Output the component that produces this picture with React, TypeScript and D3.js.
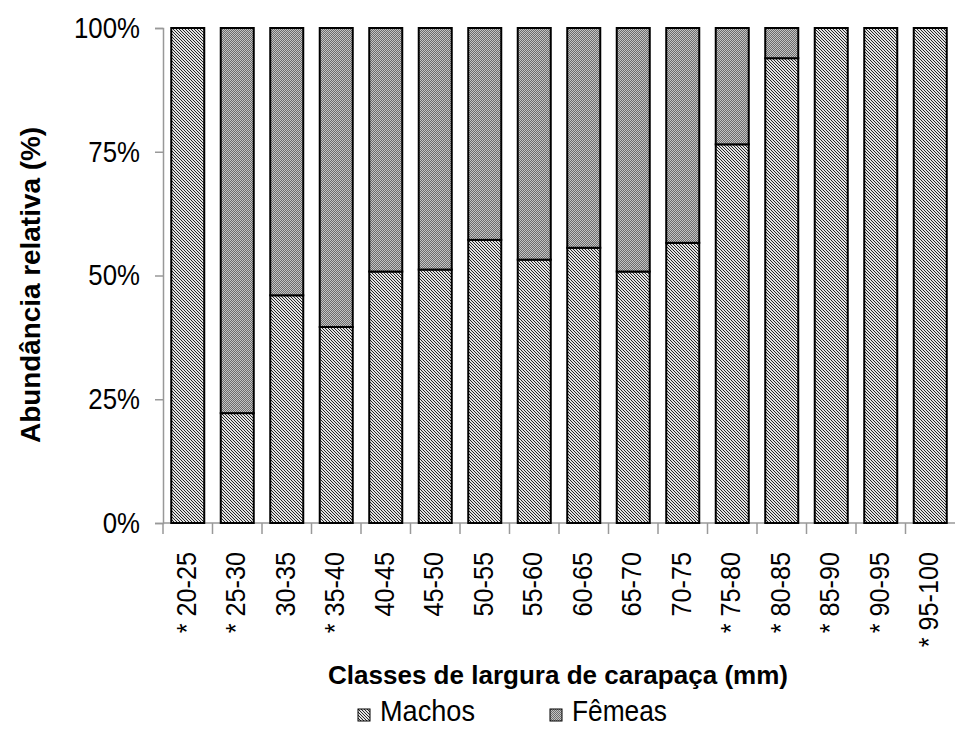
import * as d3 from 'd3';
import React, {useEffect} from 'react';

const classes = ['20-25', '25-30', '30-35', '35-40', '40-45', '45-50', '50-55', '55-60',
  '60-65', '65-70', '70-75', '75-80', '80-85', '85-90', '90-95', '95-100'];
const starred = ['20-25', '25-30', '35-40', '75-80', '80-85', '85-90', '90-95', '95-100'];
const machos = [100, 22.2, 46, 39.6, 50.8, 51.2, 57.2, 53.2, 55.6, 50.8, 56.6, 76.5, 93.9, 100, 100, 100];
const femeas = machos.map((m) => 100 - m);
const yTicks = [0, 25, 50, 75, 100];
const seriesNames = ['Machos', 'Fêmeas'];

const FONT = "'Liberation Sans', Arial, sans-serif";

// squeeze a text element horizontally (the original uses a narrow font)
function squeeze(sel: any, s: number) {
  sel.each(function (this: SVGTextElement) {
    const len = this.getComputedTextLength();
    d3.select(this)
      .attr('textLength', len * s)
      .attr('lengthAdjust', 'spacingAndGlyphs');
  });
}

export default function App() {
  const ref = React.useRef<SVGSVGElement>(null);

  useEffect(() => {
    draw();
  }, []);

  function draw() {
    const svg = d3.select(ref.current);
    svg.selectAll('*').remove();

    const margin = {top: 28, left: 163, right: 0, bottom: 206},
      width = 955 - margin.left - margin.right,
      height = 729 - margin.top - margin.bottom;

    // fill patterns
    const defs = svg.append('defs');
    const pm = defs.append('pattern')
      .attr('id', 'pat-machos')
      .attr('width', 3).attr('height', 3)
      .attr('patternUnits', 'userSpaceOnUse');
    pm.append('rect').attr('width', 3).attr('height', 3).attr('fill', '#e2e2e2');
    [0, 1, 2].forEach((k) => {
      pm.append('rect').attr('x', k).attr('y', k).attr('width', 1).attr('height', 1).attr('fill', '#262626');
    });
    const pf = defs.append('pattern')
      .attr('id', 'pat-femeas')
      .attr('width', 2).attr('height', 2)
      .attr('patternUnits', 'userSpaceOnUse');
    pf.append('rect').attr('width', 2).attr('height', 2).attr('fill', '#c4c4c4');
    pf.append('rect').attr('width', 1).attr('height', 1).attr('fill', '#6c6c6c');
    pf.append('rect').attr('x', 1).attr('y', 1).attr('width', 1).attr('height', 1).attr('fill', '#6c6c6c');

    const g = svg.append('g')
      .attr('transform', 'translate(' + margin.left + ',' + margin.top + ')');

    const x = d3.scaleBand()
      .domain(classes)
      .range([0, width])
      .paddingInner(0.333)
      .paddingOuter(0.1665);

    const y = d3.scaleLinear()
      .domain([0, 100])
      .range([height, 0]);

    // Y axis
    const yAxis = g.append('g')
      .call(d3.axisLeft(y).tickValues(yTicks).tickSize(8).tickPadding(15)
        .tickFormat((d) => d + '%'));
    yAxis.select('.domain').attr('stroke', '#999').attr('stroke-width', 1.5);
    yAxis.selectAll('.tick line').attr('stroke', '#999').attr('stroke-width', 1.5);
    const yLabels = yAxis.selectAll('.tick text')
      .attr('fill', '#000')
      .style('font-family', FONT)
      .style('font-size', '29px');
    squeeze(yLabels, 0.89);

    // X axis (ticks between categories)
    const xAxisG = g.append('g').attr('transform', 'translate(0,' + height + ')');
    xAxisG.append('line')
      .attr('x1', 0).attr('x2', width)
      .attr('stroke', '#999').attr('stroke-width', 1.5);
    const step = x.step();
    xAxisG.selectAll('.sep')
      .data(classes)
      .enter()
      .append('line')
      .attr('x1', (d) => x(d)! - x.paddingOuter() * step)
      .attr('x2', (d) => x(d)! - x.paddingOuter() * step)
      .attr('y1', 0).attr('y2', 11)
      .attr('stroke', '#999').attr('stroke-width', 1.5);

    const xLabels = xAxisG.selectAll('.lbl')
      .data(classes)
      .enter()
      .append('text')
      .attr('transform', (d) => 'translate(' + (x(d)! + x.bandwidth() / 2 + 8) + ',29) rotate(-90)')
      .attr('text-anchor', 'end')
      .style('font-family', FONT)
      .style('font-size', '28px')
      .text((d) => (starred.includes(d) ? '* ' : '') + d);
    squeeze(xLabels, 0.9);

    // stacked bars
    const bars = g.append('g');
    classes.forEach((c, i) => {
      bars.append('rect')
        .attr('x', x(c)!)
        .attr('y', y(machos[i]))
        .attr('width', x.bandwidth())
        .attr('height', height - y(machos[i]))
        .attr('fill', 'url(#pat-machos)')
        .attr('stroke', '#000')
        .attr('stroke-width', 2);
      if (femeas[i] > 0.01) {
        bars.append('rect')
          .attr('x', x(c)!)
          .attr('y', y(100))
          .attr('width', x.bandwidth())
          .attr('height', y(machos[i]) - y(100))
          .attr('fill', 'url(#pat-femeas)')
          .attr('stroke', '#000')
          .attr('stroke-width', 2);
      }
    });

    // axis titles
    svg.append('text')
      .attr('transform', 'translate(40,285) rotate(-90)')
      .attr('text-anchor', 'middle')
      .attr('textLength', 316)
      .attr('lengthAdjust', 'spacingAndGlyphs')
      .style('font-family', FONT)
      .style('font-size', '27px')
      .style('font-weight', 'bold')
      .text('Abundância relativa (%)');

    svg.append('text')
      .attr('x', 558).attr('y', 684)
      .attr('text-anchor', 'middle')
      .attr('textLength', 460)
      .attr('lengthAdjust', 'spacingAndGlyphs')
      .style('font-family', FONT)
      .style('font-size', '26px')
      .style('font-weight', 'bold')
      .text('Classes de largura de carapaça (mm)');

    // legend
    const legX = [358, 550];
    const leg = svg.append('g');
    seriesNames.forEach((name, i) => {
      leg.append('rect')
        .attr('x', legX[i]).attr('y', 709)
        .attr('width', 12).attr('height', 12)
        .attr('fill', i === 0 ? 'url(#pat-machos)' : 'url(#pat-femeas)')
        .attr('stroke', '#000').attr('stroke-width', 1);
      leg.append('text')
        .attr('x', legX[i] + 22).attr('y', 721)
        .attr('textLength', 95)
        .attr('lengthAdjust', 'spacingAndGlyphs')
        .style('font-family', FONT)
        .style('font-size', '29px')
        .text(name);
    });
  }

  return (
    <svg ref={ref} width={955} height={729}
      style={{display: 'block', position: 'absolute', left: 0, top: 0}}></svg>
  );
}
